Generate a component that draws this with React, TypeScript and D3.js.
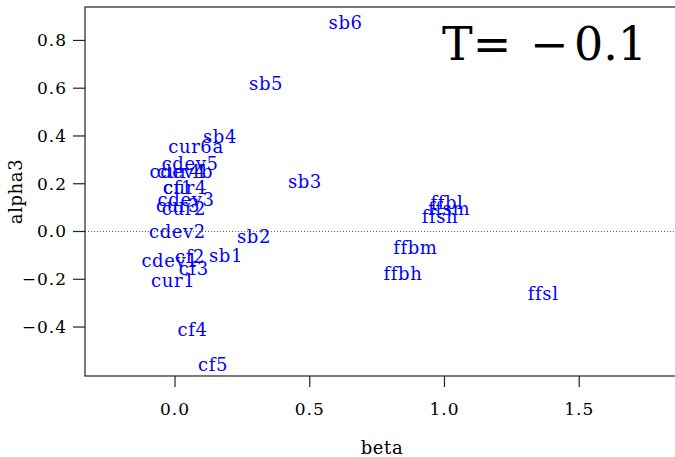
import React from "react";
import * as d3 from "d3";

// point labels and their coordinates (beta, alpha3)
const labels = ["sb6", "sb5", "sb4", "cur6a", "cdev5", "cdev4", "cur4b", "cf1", "cur4", "cdev3", "cur3", "cur2", "cdev2", "sb2", "cdev1", "cf2", "sb1", "cf3", "cur1", "cf4", "cf5", "sb3", "ffbl", "ffsm", "ffsh", "ffbm", "ffbh", "ffsl"];
const beta = [0.633, 0.338, 0.167, 0.078, 0.056, 0.011, 0.037, 0.011, 0.037, 0.041, 0.011, 0.033, 0.009, 0.293, -0.019, 0.056, 0.189, 0.07, -0.007, 0.065, 0.141, 0.482, 1.009, 1.017, 0.983, 0.892, 0.846, 1.366];
const alpha3 = [0.873, 0.618, 0.397, 0.357, 0.283, 0.252, 0.252, 0.182, 0.182, 0.133, 0.107, 0.094, 0.001, -0.023, -0.122, -0.107, -0.101, -0.157, -0.206, -0.413, -0.556, 0.208, 0.122, 0.097, 0.06, -0.066, -0.175, -0.262];

const xTicks = [0, 0.5, 1, 1.5];
const yTicks = [-0.4, -0.2, 0, 0.2, 0.4, 0.6, 0.8];

const W = 675, H = 457;
const left = 85, right = 690, top = 7, bottom = 376;

const font = "DejaVu Serif";

export default function App() {
  const x = d3.scaleLinear().domain([-0.334, 1.911]).range([left, right]);
  const y = d3.scaleLinear().domain([-0.605, 0.94]).range([bottom, top]);
  const fmt = (v: number) => {
    const s = d3.format(".1f")(Math.abs(v));
    return v < 0 ? "\u2212" + s : s;
  };

  return (
    <svg width={W} height={H} style={{ position: "absolute", left: 0, top: 0, background: "#fff" }} fontFamily={font}>
      {/* zero reference line */}
      <line x1={left} x2={right} y1={y(0)} y2={y(0)} stroke="#666" strokeDasharray="1,2" strokeWidth={1} />

      {/* point labels */}
      {labels.map((l, i) => (
        <text key={l} x={x(beta[i])} y={y(alpha3[i])} dy="0.35em" textAnchor="middle" fill="#0000ff" fontSize={18} letterSpacing={0.6}>
          {l}
        </text>
      ))}

      {/* frame */}
      <rect x={left} y={top} width={right - left} height={bottom - top} fill="none" stroke="#222" strokeWidth={1.2} />

      {/* y axis */}
      {yTicks.map(t => (
        <g key={t}>
          <line x1={left - 12} x2={left} y1={y(t)} y2={y(t)} stroke="#222" strokeWidth={1.2} />
          <text x={67} y={y(t)} dy="0.35em" textAnchor="end" fontSize={17} letterSpacing={1}>{fmt(t)}</text>
        </g>
      ))}

      {/* x axis */}
      {xTicks.map(t => (
        <g key={t}>
          <line x1={x(t)} x2={x(t)} y1={bottom} y2={bottom + 11} stroke="#222" strokeWidth={1.2} />
          <text x={x(t)} y={415} textAnchor="middle" fontSize={17} letterSpacing={1}>{fmt(t)}</text>
        </g>
      ))}

      <text x={382} y={454} textAnchor="middle" fontSize={18} letterSpacing={0.6}>beta</text>
      <text transform={`translate(22, ${(top + bottom) / 2}) rotate(-90)`} textAnchor="middle" fontSize={18} letterSpacing={0.6}>alpha3</text>

      {/* temperature annotation */}
      <text y={60} fontSize={46}>
        <tspan x={442}>T=</tspan>
        <tspan x={530}>{"\u2212"}</tspan>
        <tspan x={574} textLength={73} lengthAdjust="spacingAndGlyphs">0.1</tspan>
      </text>
    </svg>
  );
}
